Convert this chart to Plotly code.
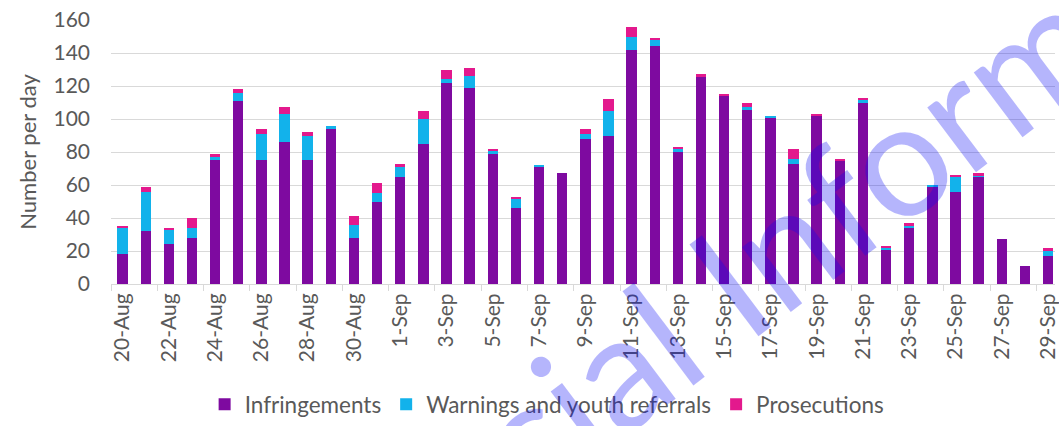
import plotly.graph_objects as go

dates = ["20-Aug", "21-Aug", "22-Aug", "23-Aug", "24-Aug", "25-Aug", "26-Aug", "27-Aug",
         "28-Aug", "29-Aug", "30-Aug", "31-Aug",
         "1-Sep", "2-Sep", "3-Sep", "4-Sep", "5-Sep", "6-Sep", "7-Sep", "8-Sep", "9-Sep",
         "10-Sep", "11-Sep", "12-Sep", "13-Sep", "14-Sep", "15-Sep", "16-Sep", "17-Sep",
         "18-Sep", "19-Sep", "20-Sep", "21-Sep", "22-Sep", "23-Sep", "24-Sep", "25-Sep",
         "26-Sep", "27-Sep", "28-Sep", "29-Sep"]

infringements = [18, 32, 24, 28, 75, 111, 75, 86, 75, 94, 28, 50,
                 65, 85, 122, 119, 79, 46, 71, 67, 88, 90, 142, 144, 80, 126, 114, 106,
                 101, 73, 102, 75, 110, 21, 34, 59, 56, 65, 27, 11, 17]
warnings = [16, 24, 9, 6, 2, 5, 16, 17, 15, 2, 8, 5,
            6, 15, 2, 7, 2, 6, 1, 0, 3, 15, 8, 4, 2, 0, 0, 1,
            1, 3, 0, 0, 2, 1, 1, 1, 9, 1, 0, 0, 3]
prosecutions = [1, 3, 1, 6, 2, 2, 3, 4, 2, 0, 5, 6,
                2, 5, 6, 5, 1, 1, 0, 0, 3, 7, 6, 1, 1, 1, 1, 3,
                0, 6, 1, 1, 1, 1, 2, 0, 1, 1, 0, 0, 2]

series_names = ["Infringements", "Warnings and youth referrals", "Prosecutions"]
series_colors = ["#7E0AA0", "#12B2EB", "#E3198D"]
tick_labels = dates[::2]
y_ticks = [0, 20, 40, 60, 80, 100, 120, 140, 160]

FONT = "Lato"
TXT = "#595959"

fig = go.Figure()
for name, vals, col in zip(series_names, [infringements, warnings, prosecutions], series_colors):
    fig.add_trace(go.Bar(x=dates, y=vals, name=name, marker=dict(color=col, line=dict(width=0))))

fig.update_layout(
    width=1059, height=426,
    barmode="stack", bargap=0.55,
    paper_bgcolor="white", plot_bgcolor="white",
    margin=dict(l=111, r=0, t=20, b=137),
    font=dict(family=FONT, color=TXT),
    showlegend=True,
    legend=dict(orientation="h", x=0.462, xanchor="center", y=-0.457, yanchor="middle",
                font=dict(size=22.5, color=TXT), itemwidth=30, traceorder="normal"),
    xaxis=dict(type="category", categoryorder="array", categoryarray=dates,
               range=[-0.5, 40.3], tickmode="array", tickvals=tick_labels, ticktext=tick_labels,
               tickangle=-90, tickfont=dict(size=21, color=TXT),
               tickson="boundaries", ticks="outside", ticklen=6, tickcolor="#D9D9D9",
               showline=True, linecolor="#D9D9D9", linewidth=1, showgrid=False),
    yaxis=dict(range=[0, 160], tickmode="array", tickvals=y_ticks,
               tickfont=dict(size=21, color=TXT), ticklabelstandoff=20,
               showgrid=True, gridcolor="#D9D9D9", gridwidth=1, zeroline=False,
               title=dict(text="Number per day", font=dict(size=22, color=TXT), standoff=10)),
    annotations=[dict(text="Official Information", xref="paper", yref="paper",
                      x=0.753, y=0.275, xanchor="center", yanchor="middle",
                      showarrow=False, textangle=-37,
                      font=dict(family=FONT, size=160, color="rgba(10,10,245,0.3)"))],
)

fig.write_html("out.html", config={"displayModeBar": False},
               post_script="document.body.style.margin='0';")
